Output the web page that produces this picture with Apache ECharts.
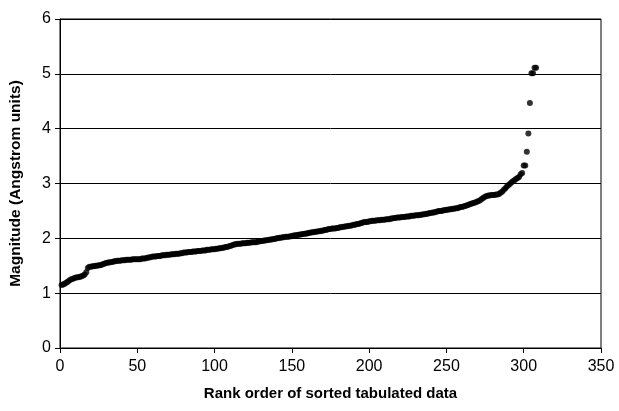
<!DOCTYPE html>
<html>
<head>
<meta charset="utf-8">
<script src="https://cdn.jsdelivr.net/npm/echarts@6/dist/echarts.min.js"></script>
<style>html,body{margin:0;padding:0;background:#fff}#c{width:619px;height:411px}</style>
</head>
<body>
<div id="c"></div>
<script>
// Magnitudes (Angstrom units) in rank order, rank = index + 1
var magnitudes = [
1.15,1.16,1.17,1.19,1.21,1.23,1.25,1.26,1.27,1.28,1.29,1.29,1.30,1.31,1.32,1.34,1.38,
1.46,1.48,1.48,1.49,1.49,1.50,1.50,1.51,1.51,1.52,1.53,1.54,1.55,1.56,1.56,1.57,1.57,1.58,1.58,1.59,1.59,1.59,1.60,
1.60,1.60,1.61,1.61,1.61,1.61,1.62,1.62,1.62,1.62,1.62,1.62,1.63,1.63,1.63,
1.64,1.65,1.65,1.66,1.67,1.67,1.67,1.68,1.68,1.68,1.69,1.69,1.69,1.70,1.70,
1.70,1.71,1.71,1.71,1.72,1.72,1.72,1.73,1.73,1.74,1.74,1.74,1.75,1.75,1.75,
1.76,1.76,1.76,1.77,1.77,1.77,1.78,1.78,1.78,1.79,1.79,1.79,1.80,1.80,1.80,
1.81,1.81,1.82,1.82,1.83,1.83,1.84,1.84,1.85,1.86,1.87,1.88,1.89,1.89,1.90,
1.90,1.90,1.91,1.91,1.91,1.92,1.92,1.92,1.93,1.93,1.93,1.93,1.94,1.94,1.95,
1.95,1.96,1.96,1.97,1.97,1.98,1.98,1.99,1.99,2.00,2.00,2.01,2.01,2.02,2.02,
2.03,2.03,2.03,2.04,2.04,2.05,2.05,2.06,2.06,2.07,2.07,2.08,2.08,2.09,2.09,
2.10,2.10,2.11,2.11,2.12,2.12,2.13,2.13,2.14,2.14,2.15,2.15,2.16,2.17,2.17,
2.18,2.18,2.18,2.19,2.19,2.20,2.20,2.21,2.21,2.22,2.22,2.23,2.23,2.24,2.25,
2.25,2.26,2.26,2.27,2.28,2.29,2.30,2.30,2.30,2.31,2.31,2.32,2.32,2.32,2.33,
2.33,2.33,2.34,2.34,2.34,2.35,2.35,2.35,2.36,2.36,2.37,2.37,2.38,2.38,2.38,
2.39,2.39,2.39,2.40,2.40,2.40,2.41,2.41,2.41,2.42,2.42,2.42,2.43,2.43,2.44,
2.44,2.45,2.45,2.46,2.46,2.47,2.47,2.48,2.49,2.50,2.50,2.50,2.51,2.51,2.52,
2.52,2.53,2.53,2.54,2.54,2.55,2.55,2.56,2.57,2.57,2.58,2.59,2.60,2.61,2.62,
2.63,2.64,2.65,2.66,2.67,2.68,2.70,2.72,2.74,2.76,2.77,2.78,2.78,2.79,2.79,
2.79,2.80,2.80,2.81,2.83,2.85,2.88,2.91,2.94,2.97,2.99,3.02,3.04,3.06,3.08,3.10,3.12,
3.17,3.19,3.33,3.33,3.58,3.91,4.47,5.01,5.01,5.11,5.11
];
var xTicks = [0,50,100,150,200,250,300,350];
var yTicks = [0,1,2,3,4,5,6];
var xTitle = 'Rank order of sorted tabulated data';
var yTitle = 'Magnitude (Angstrom units)';

var points = magnitudes.map(function(v, i){ return [i + 1, v]; });
var font = '"Liberation Sans", Arial, sans-serif';
var chart = echarts.init(document.getElementById('c'), null, {renderer: 'canvas'});
chart.setOption({
  animation: false,
  backgroundColor: '#fff',
  grid: {left: 58, right: 18, top: 19, bottom: 63, show: true, borderColor: '#000', borderWidth: 1, backgroundColor: 'transparent'},
  xAxis: {
    type: 'value', min: xTicks[0], max: xTicks[xTicks.length-1], interval: 50,
    name: xTitle, nameLocation: 'middle', nameGap: 38,
    nameTextStyle: {fontFamily: font, fontSize: 15, fontWeight: 'bold', color: '#000'},
    axisLine: {show: true, lineStyle: {color: '#000', width: 1}},
    axisTick: {show: true, inside: false, length: 5, lineStyle: {color: '#000'}},
    axisLabel: {fontFamily: font, fontSize: 16, color: '#000', margin: 11},
    splitLine: {show: false}
  },
  yAxis: {
    type: 'value', min: yTicks[0], max: yTicks[yTicks.length-1], interval: 1,
    name: yTitle, nameLocation: 'middle', nameGap: 36, nameRotate: 90,
    nameTextStyle: {fontFamily: font, fontSize: 15.5, fontWeight: 'bold', color: '#000'},
    axisLine: {show: true, lineStyle: {color: '#000', width: 1}},
    axisTick: {show: true, inside: false, length: 5, lineStyle: {color: '#000'}},
    axisLabel: {fontFamily: font, fontSize: 16, color: '#000', margin: 9},
    splitLine: {show: true, lineStyle: {color: '#000', width: 1}}
  },
  series: [{
    type: 'scatter',
    data: points,
    symbol: 'circle',
    symbolSize: 6,
    itemStyle: {color: '#000'}
  }]
});
</script>
</body>
</html>
